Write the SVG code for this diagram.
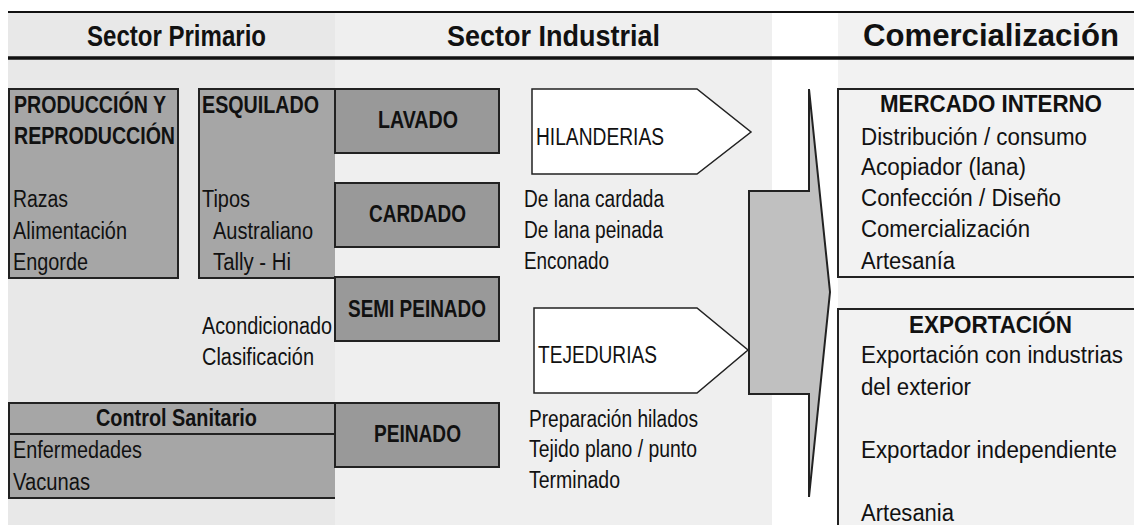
<svg xmlns="http://www.w3.org/2000/svg" width="1134" height="525" viewBox="0 0 1134 525">
<style>
text{font-family:"Liberation Sans",Arial,sans-serif;fill:#111;}
.t{font-size:23px;}
.b{font-size:23px;font-weight:bold;}
.h{font-size:29px;font-weight:bold;}
.box{fill:#a6a6a6;stroke:#222;stroke-width:2;}
.proc{fill:#999999;stroke:#222;stroke-width:2;}
.pent{fill:#ffffff;stroke:#222;stroke-width:1.5;}
.out{fill:none;stroke:#222;stroke-width:2;}
</style>
<rect x="0" y="0" width="1134" height="525" fill="#ffffff"/>
<g id="background">
<rect x="8" y="12" width="327" height="513" fill="#e8e8e8"/>
<rect x="335" y="12" width="437" height="513" fill="#efefef"/>
<rect x="838" y="12" width="296" height="513" fill="#f2f2f2"/>
<line x1="8" y1="12" x2="1134" y2="12" stroke="#111" stroke-width="2"/>
<line x1="8" y1="58" x2="1134" y2="58" stroke="#111" stroke-width="3.5"/>
</g>
<g id="headers">
<text class="h" x="87" y="46" textLength="179" lengthAdjust="spacingAndGlyphs">Sector Primario</text>
<text class="h" x="447" y="46" textLength="213" lengthAdjust="spacingAndGlyphs">Sector Industrial</text>
<text class="h" x="863" y="46" style="font-size:32px" textLength="256" lengthAdjust="spacingAndGlyphs">Comercialización</text>
</g>
<g id="produccion">
<rect class="box" x="9" y="89" width="169" height="189"/>
<text class="b" x="14" y="113" textLength="152" lengthAdjust="spacingAndGlyphs">PRODUCCIÓN Y</text>
<text class="b" x="14" y="144" textLength="161" lengthAdjust="spacingAndGlyphs">REPRODUCCIÓN</text>
<text class="t" x="13" y="207" textLength="55" lengthAdjust="spacingAndGlyphs">Razas</text>
<text class="t" x="13" y="239" textLength="114" lengthAdjust="spacingAndGlyphs">Alimentación</text>
<text class="t" x="13" y="270" textLength="75" lengthAdjust="spacingAndGlyphs">Engorde</text>
</g>
<g id="esquilado">
<path class="box" d="M335,89 H199 V278 H335"/>
<text class="b" x="202" y="113" textLength="117" lengthAdjust="spacingAndGlyphs">ESQUILADO</text>
<text class="t" x="202" y="207" textLength="48" lengthAdjust="spacingAndGlyphs">Tipos</text>
<text class="t" x="213" y="239" textLength="100" lengthAdjust="spacingAndGlyphs">Australiano</text>
<text class="t" x="213" y="270" textLength="78" lengthAdjust="spacingAndGlyphs">Tally - Hi</text>
</g>
<g id="acondicionado">
<text class="t" x="202" y="334" textLength="130" lengthAdjust="spacingAndGlyphs">Acondicionado</text>
<text class="t" x="202" y="365" textLength="112" lengthAdjust="spacingAndGlyphs">Clasificación</text>
</g>
<g id="control-sanitario">
<path class="box" d="M335,403 H9 V498 H335"/>
<line x1="9" y1="434" x2="335" y2="434" stroke="#222" stroke-width="2"/>
<text class="b" x="96" y="426" textLength="161" lengthAdjust="spacingAndGlyphs">Control Sanitario</text>
<text class="t" x="13" y="458" textLength="129" lengthAdjust="spacingAndGlyphs">Enfermedades</text>
<text class="t" x="13" y="490" textLength="77" lengthAdjust="spacingAndGlyphs">Vacunas</text>
</g>
<g id="lavado">
<rect class="proc" x="335" y="89" width="164" height="64"/>
<text class="b" x="378" y="128" textLength="80" lengthAdjust="spacingAndGlyphs">LAVADO</text>
</g>
<g id="cardado">
<rect class="proc" x="335" y="183" width="164" height="64"/>
<text class="b" x="369" y="222" textLength="97" lengthAdjust="spacingAndGlyphs">CARDADO</text>
</g>
<g id="semi-peinado">
<rect class="proc" x="335" y="277" width="164" height="64"/>
<text class="b" x="348" y="317" textLength="138" lengthAdjust="spacingAndGlyphs">SEMI PEINADO</text>
</g>
<g id="peinado">
<rect class="proc" x="335" y="403" width="164" height="64"/>
<text class="b" x="374" y="442" textLength="87" lengthAdjust="spacingAndGlyphs">PEINADO</text>
</g>
<g id="hilanderias">
<polygon class="pent" points="532,89 697,89 751,132 697,174 532,174"/>
<text class="t" x="536" y="145" textLength="128" lengthAdjust="spacingAndGlyphs">HILANDERIAS</text>
<text class="t" x="524" y="207" textLength="140" lengthAdjust="spacingAndGlyphs">De lana cardada</text>
<text class="t" x="524" y="238" textLength="139" lengthAdjust="spacingAndGlyphs">De lana peinada</text>
<text class="t" x="524" y="269" textLength="85" lengthAdjust="spacingAndGlyphs">Enconado</text>
</g>
<g id="tejedurias">
<polygon class="pent" points="534,308 697,308 748,350 697,393 534,393"/>
<text class="t" x="538" y="363" textLength="119" lengthAdjust="spacingAndGlyphs">TEJEDURIAS</text>
<text class="t" x="529" y="427" textLength="169" lengthAdjust="spacingAndGlyphs">Preparación hilados</text>
<text class="t" x="529" y="457" textLength="168" lengthAdjust="spacingAndGlyphs">Tejido plano / punto</text>
<text class="t" x="529" y="488" textLength="91" lengthAdjust="spacingAndGlyphs">Terminado</text>
</g>
<g id="connectors">
<polygon points="749,191 809,191 809,89 830,292 809,497 809,394 749,394" fill="#c0c0c0" stroke="#222" stroke-width="2" stroke-linejoin="miter"/>
</g>
<g id="mercado-interno">
<rect class="out" x="838" y="89" width="300" height="188"/>
<text class="b" x="880" y="112" textLength="222" lengthAdjust="spacingAndGlyphs">MERCADO INTERNO</text>
<text class="t" x="861" y="145" textLength="226" lengthAdjust="spacingAndGlyphs">Distribución / consumo</text>
<text class="t" x="861" y="175" textLength="165" lengthAdjust="spacingAndGlyphs">Acopiador (lana)</text>
<text class="t" x="861" y="206" textLength="200" lengthAdjust="spacingAndGlyphs">Confección / Diseño</text>
<text class="t" x="861" y="237" textLength="169" lengthAdjust="spacingAndGlyphs">Comercialización</text>
<text class="t" x="861" y="269" textLength="94" lengthAdjust="spacingAndGlyphs">Artesanía</text>
</g>
<g id="exportacion">
<rect class="out" x="838" y="309" width="300" height="230"/>
<text class="b" x="909" y="333" textLength="163" lengthAdjust="spacingAndGlyphs">EXPORTACIÓN</text>
<text class="t" x="861" y="363" textLength="262" lengthAdjust="spacingAndGlyphs">Exportación con industrias</text>
<text class="t" x="861" y="395" textLength="110" lengthAdjust="spacingAndGlyphs">del exterior</text>
<text class="t" x="861" y="458" textLength="256" lengthAdjust="spacingAndGlyphs">Exportador independiente</text>
<text class="t" x="861" y="521" textLength="93" lengthAdjust="spacingAndGlyphs">Artesania</text>
</g>
</svg>
